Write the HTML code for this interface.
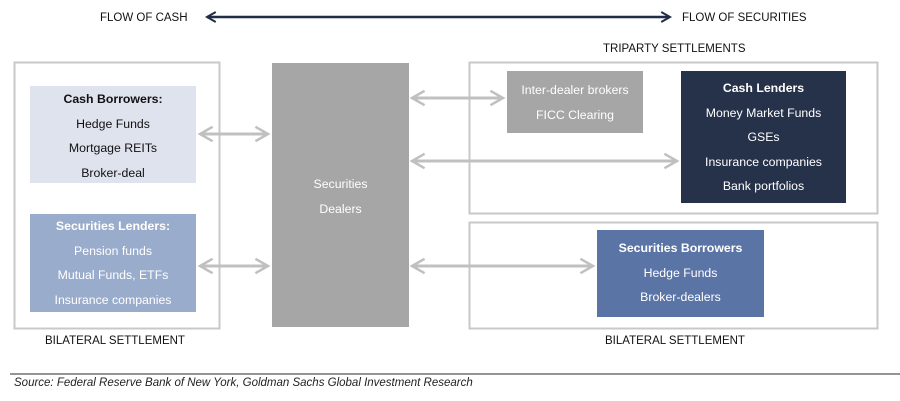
<!DOCTYPE html>
<html><head><meta charset="utf-8"><style>
body{margin:0;width:900px;height:401px;background:#fff;position:relative;font-family:"Liberation Sans",sans-serif;overflow:hidden}
.a{position:absolute;box-sizing:border-box}
.box{text-align:center;font-size:12.3px;line-height:24.5px}
.lbl{position:absolute;font-size:11.5px;color:#111;white-space:nowrap}
</style></head><body>
<svg class="a" style="left:0;top:0" width="900" height="401">
<defs>
<marker id="g" viewBox="0 0 10 10" refX="8" refY="5" markerWidth="6" markerHeight="6" orient="auto-start-reverse"><path d="M1,1 L8,5 L1,9" fill="none" stroke="#c0c0c0" stroke-width="1.4"/></marker>
<marker id="d" viewBox="0 0 10 10" refX="8" refY="5" markerWidth="5" markerHeight="5" orient="auto-start-reverse"><path d="M1,1 L8,5 L1,9" fill="none" stroke="#1f2d47" stroke-width="1.6"/></marker>
</defs>
<line x1="207" y1="17" x2="670" y2="17" stroke="#1f2d47" stroke-width="2.5" marker-start="url(#d)" marker-end="url(#d)"/>
<rect x="14.5" y="62.5" width="205" height="266" fill="none" stroke="#c8c8c8" stroke-width="2"/>
<rect x="469.5" y="62.5" width="408" height="151" fill="none" stroke="#c8c8c8" stroke-width="2"/>
<rect x="469.5" y="222.5" width="408" height="106" fill="none" stroke="#c8c8c8" stroke-width="2"/>
<g stroke="#c0c0c0" stroke-width="3" fill="none">
<line x1="200" y1="134" x2="268" y2="134" marker-start="url(#g)" marker-end="url(#g)"/>
<line x1="200" y1="266" x2="268" y2="266" marker-start="url(#g)" marker-end="url(#g)"/>
<line x1="412" y1="98" x2="503" y2="98" marker-start="url(#g)" marker-end="url(#g)"/>
<line x1="412" y1="161" x2="677" y2="161" marker-start="url(#g)" marker-end="url(#g)"/>
<line x1="412" y1="266" x2="593" y2="266" marker-start="url(#g)" marker-end="url(#g)"/>
</g>
<line x1="10" y1="374" x2="900" y2="374" stroke="#555" stroke-width="1.2"/>
</svg>
<div class="lbl" style="left:100px;top:12px">FLOW OF CASH</div>
<div class="lbl" style="left:682px;top:12px">FLOW OF SECURITIES</div>
<div class="lbl" style="left:603px;top:43px">TRIPARTY SETTLEMENTS</div>
<div class="lbl" style="left:45px;top:335px">BILATERAL SETTLEMENT</div>
<div class="lbl" style="left:605px;top:335px">BILATERAL SETTLEMENT</div>
<div class="a box" style="left:30px;top:86px;width:166px;height:97px;background:#dfe3ee;color:#111;padding-top:1px"><b>Cash Borrowers:</b><br>Hedge Funds<br>Mortgage REITs<br>Broker-deal</div>
<div class="a box" style="left:30px;top:214px;width:166px;height:98px;background:#9aaccb;color:#fff;padding-top:0px"><b>Securities Lenders:</b><br>Pension funds<br>Mutual Funds, ETFs<br>Insurance companies</div>
<div class="a box" style="left:272px;top:63px;width:137px;height:264px;background:#a6a6a6;color:#fff;padding-top:109px">Securities<br>Dealers</div>
<div class="a box" style="left:507px;top:71px;width:136px;height:62px;background:#a6a6a6;color:#fff;padding-top:7px">Inter-dealer brokers<br>FICC Clearing</div>
<div class="a box" style="left:681px;top:71px;width:165px;height:132px;background:#26324a;color:#fff;padding-top:5px"><b>Cash Lenders</b><br>Money Market Funds<br>GSEs<br>Insurance companies<br>Bank portfolios</div>
<div class="a box" style="left:597px;top:230px;width:167px;height:87px;background:#5b74a6;color:#fff;padding-top:6px"><b>Securities Borrowers</b><br>Hedge Funds<br>Broker-dealers</div>
<div class="lbl" style="left:14px;top:377px;font-style:italic;font-size:11.5px;color:#222">Source: Federal Reserve Bank of New York, Goldman Sachs Global Investment Research</div>
</body></html>
